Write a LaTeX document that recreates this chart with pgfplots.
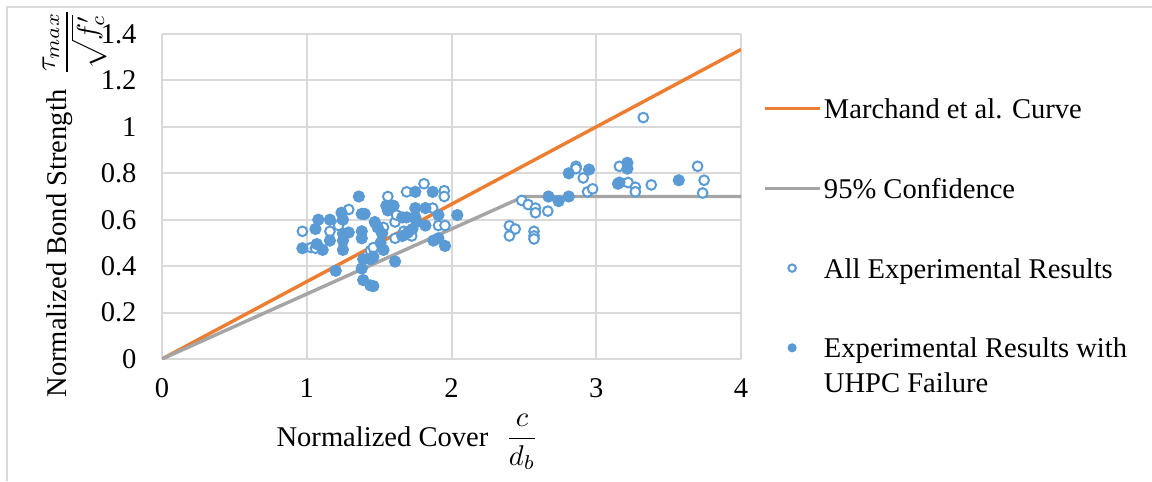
\documentclass[border=0pt]{standalone}
\usepackage{amsmath}
\usepackage{fontspec}
\setmainfont{Liberation Serif}
\usepackage{pgfplots}
\pgfplotsset{compat=1.18}
\definecolor{morange}{HTML}{ED7D31}
\definecolor{mgray}{HTML}{A5A5A5}
\definecolor{mblue}{HTML}{5B9BD5}
\definecolor{gridc}{HTML}{D9D9D9}
\pgfplotsset{
  lineleg/.style={legend image code/.code={\draw[##1] (0pt,3.5pt) -- (19.25pt,3.5pt);}},
  openleg/.style={legend image code/.code={\draw[##1, mark size=1.3pt] plot coordinates {(9.45pt,3.5pt)};}},
  dotleg/.style={legend image code/.code={\draw[##1, mark size=1.4pt] plot coordinates {(9.45pt,3.5pt)};}},
}
\begin{document}
\begin{tikzpicture}
\begin{axis}[
  at={(0,0)}, anchor=south west,
  scale only axis, width=202.65pt, height=113.75pt,
  xmin=0, xmax=4, ymin=0, ymax=1.4,
  xtick={0,1,2,3,4}, ytick={0,0.2,0.4,0.6,0.8,1,1.2,1.4},
  grid=major, major grid style={draw=gridc, line width=0.7pt},
  axis line style={draw=none},
  major tick length=0pt,
  /pgf/number format/assume math mode=true,
  yticklabel style={xshift=-5.4pt},
  xticklabel style={yshift=-3.3pt},
  legend style={at={(1.0377,0.815)}, anchor=north west, draw=none, fill=none,
    inner sep=0pt, row sep=18pt, column sep=0pt,
    cells={anchor=base west}, nodes={inner xsep=0.75pt, inner ysep=0pt}},
]
\addplot[morange, line width=1.2pt, no marks, lineleg]
  coordinates {(0,0) (4,1.3333)};
\addlegendentry{\strut Marchand et al. Curve}
\addplot[mgray, line width=1.2pt, no marks, lineleg]
  coordinates {(0,0) (2.5,0.7) (4,0.7)};
\addlegendentry{\strut 95\% Confidence}
\addplot[only marks, mark=*, mark size=1.7pt,
  mark options={draw=mblue, fill=white, line width=0.7pt}, openleg]
  table {
x y
0.97 0.55
1.03 0.48
1.06 0.477
1.16 0.55
1.22 0.575
1.29 0.644
1.44 0.466
1.46 0.48
1.53 0.567
1.56 0.70
1.61 0.59
1.62 0.62
1.61 0.52
1.67 0.55
1.69 0.72
1.725 0.53
1.81 0.755
1.87 0.65
1.91 0.575
1.955 0.575
1.95 0.725
1.95 0.70
2.485 0.683
2.53 0.665
2.58 0.65
2.58 0.63
2.665 0.637
2.40 0.574
2.44 0.56
2.40 0.53
2.57 0.55
2.57 0.53
2.57 0.517
2.86 0.83
2.86 0.82
2.91 0.78
2.94 0.72
2.975 0.733
3.325 1.04
3.16 0.83
3.22 0.76
3.27 0.74
3.27 0.72
3.38 0.75
3.70 0.83
3.745 0.77
3.735 0.715
};
\addlegendentry{\strut All Experimental Results}
\addplot[only marks, mark=*, mark size=1.95pt,
  mark options={draw=mblue, fill=mblue}, dotleg]
  table {
x y
0.97 0.477
1.06 0.56
1.08 0.60
1.07 0.495
1.11 0.47
1.16 0.60
1.16 0.51
1.20 0.38
1.24 0.63
1.25 0.60
1.25 0.54
1.25 0.51
1.25 0.47
1.29 0.545
1.36 0.70
1.38 0.625
1.40 0.625
1.38 0.55
1.38 0.52
1.39 0.43
1.38 0.39
1.39 0.34
1.44 0.317
1.46 0.314
1.44 0.43
1.46 0.44
1.49 0.567
1.47 0.59
1.52 0.54
1.51 0.50
1.53 0.47
1.55 0.66
1.57 0.655
1.60 0.66
1.56 0.64
1.61 0.42
1.66 0.61
1.66 0.53
1.69 0.61
1.75 0.72
1.75 0.65
1.82 0.65
1.75 0.61
1.76 0.59
1.73 0.56
1.70 0.545
1.82 0.575
1.87 0.72
1.91 0.62
2.04 0.62
1.875 0.51
1.91 0.52
1.955 0.487
2.67 0.70
2.74 0.68
2.81 0.70
2.81 0.80
2.95 0.816
3.215 0.845
3.215 0.82
3.16 0.76
3.15 0.755
3.57 0.77
};
\addlegendentry{\vtop{\hbox{\strut Experimental Results with}\hbox{\strut UHPC Failure}}}
\end{axis}
\node[rotate=90, anchor=base west, inner sep=0pt] at (-33.25pt,-13.65pt)
  {Normalized Bond Strength\ \ \raisebox{-2.5pt}{$\displaystyle\frac{\tau_{max}}{\sqrt{f'_c}}$}};
\node[anchor=base west, inner sep=0pt] at (39.9pt,-30.45pt)
  {Normalized Cover\hspace{6pt}$\displaystyle\frac{c}{d_b}$};
\draw[gridc, line width=0.7pt] (-54.25pt,-42.7pt) -- (-54.25pt,123.2pt) -- (346.5pt,123.2pt);
\pgfresetboundingbox
\useasboundingbox (-56.7pt,-42.7pt) rectangle (346.5pt,125.65pt);
\end{tikzpicture}
\end{document}
